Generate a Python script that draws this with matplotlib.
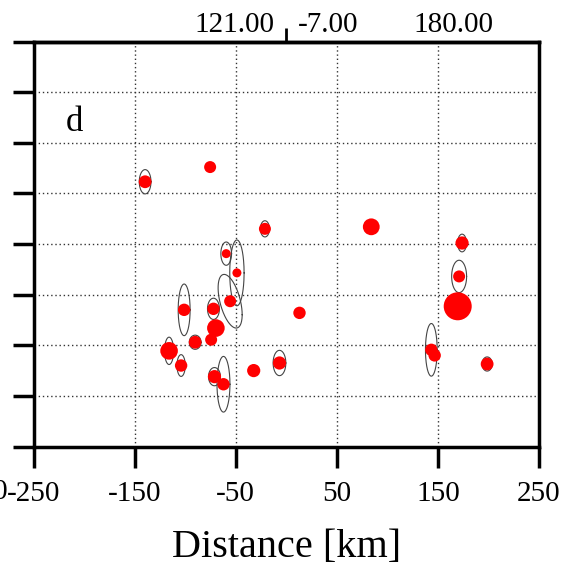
#!/usr/bin/env python3

import matplotlib.pyplot as plt
import numpy as np

# event locations along the profile
dist_km = np.array([-139.6, -75.3, -21.1, 84.1, 173.9, -59.4, -48.8, 171.0, -55.5, -101.0,
                    -72.0, 13.1, 169.6, -69.6, -74.3, -90.1, -115.9, 143.5, 146.8, -104.0,
                    -6.7, -32.2, 198.7, -71.0, -62.1])
level = np.array([5.23, 5.52, 4.30, 4.34, 4.02, 3.81, 3.43, 3.36, 2.87, 2.70,
                  2.72, 2.64, 2.77, 2.34, 2.11, 2.06, 1.89, 1.91, 1.80, 1.60,
                  1.65, 1.50, 1.63, 1.38, 1.23])
mag = np.array([3.2, 3.0, 3.0, 4.2, 3.3, 2.25, 2.25, 3.0, 3.0, 3.1,
                3.1, 3.1, 7.0, 4.4, 3.0, 3.2, 4.4, 3.1, 3.1, 3.1,
                3.3, 3.3, 3.2, 3.3, 3.1])

# error ellipses: index of event, half-width (km), half-height, correlation
ell_idx = [0, 2, 4, 5, 6, 7, 8, 9, 10, 15, 16, 17, 19, 20, 22, 23, 24]
ell_sx = [5.8, 4.5, 4.4, 5.3, 7.1, 7.4, 11.9, 5.9, 5.9, 5.8, 4.5, 5.8, 4.1, 6.3, 5.0, 5.9, 6.4]
ell_sy = [0.24, 0.16, 0.175, 0.23, 0.65, 0.32, 0.53, 0.51, 0.21, 0.14, 0.27, 0.52, 0.215, 0.25, 0.14, 0.18, 0.55]
ell_rho = [0, 0, 0, 0, 0, 0, -0.5, 0, 0, 0, 0, 0, 0, 0, 0, 0, 0]

top_labels = ["121.00", "-7.00", "180.00"]
top_label_x = [-51.5, 41.5, 165]

SERIF = ["Liberation Serif", "DejaVu Serif"]


def draw_ellipses(ax):
    t = np.linspace(0, 2 * np.pi, 200)
    for i, sx, sy, rho in zip(ell_idx, ell_sx, ell_sy, ell_rho):
        x = dist_km[i] + sx * np.cos(t)
        y = level[i] + sy * (rho * np.cos(t) + np.sqrt(1 - rho**2) * np.sin(t))
        ax.plot(x, y, color="#444444", lw=0.8, zorder=2)


def main():
    plt.rcParams["font.family"] = SERIF
    plt.rcParams["axes.unicode_minus"] = False
    fig = plt.figure(figsize=(5.67, 5.65), dpi=100)
    ax = fig.add_axes([0.0591, 0.2097, 0.8915, 0.7168])

    draw_ellipses(ax)
    size = (4 * mag * 0.72) ** 2
    ax.scatter(dist_km, level, s=size, color="#ff0000", edgecolors="none", zorder=3)

    ax.set_xlim(-250, 250)
    ax.set_ylim(0, 8)
    ax.set_xticks(np.arange(-250, 251, 100))
    ax.set_yticks(np.arange(0, 9, 1))
    ax.grid(True, ls=(0, (1, 2)), color="#333333", lw=1.0)
    ax.tick_params(axis="x", direction="out", length=15, width=2.5, labelsize=21, pad=10)
    ax.tick_params(axis="y", direction="out", length=15, width=2.5, labelleft=False)
    for sp in ax.spines.values():
        sp.set_linewidth(2.5)
    ax.set_xlabel("Distance [km]", fontsize=29, labelpad=16)

    top = ax.secondary_xaxis("top")
    top.set_xticks([0])
    top.set_xticklabels([""])
    top.tick_params(direction="out", length=10, width=2.0)
    top.spines["top"].set_linewidth(2.5)

    for lab, x in zip(top_labels, top_label_x):
        ax.text(x, 1.04, lab, transform=ax.get_xaxis_transform(), ha="center",
                va="center", fontsize=21)

    ax.text(0.08, 0.80, "d", transform=ax.transAxes, ha="center", va="center", fontsize=25)
    # tick label of the neighbouring panel, cut off at the edge
    fig.text(0.014, 0.129, "250", ha="right", va="center", fontsize=21)

    fig.savefig("out.png", dpi=100)
    plt.close(fig)


if __name__ == "__main__":
    main()
